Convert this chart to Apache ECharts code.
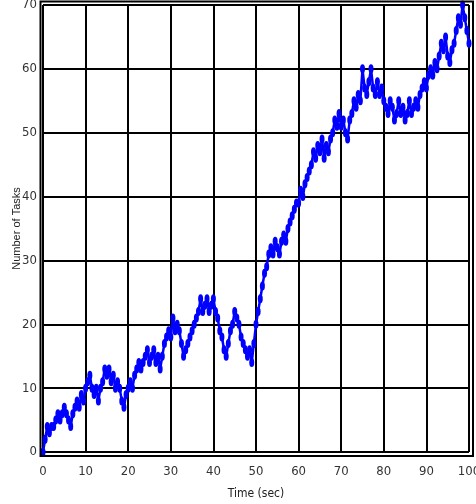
<!DOCTYPE html>
<html>
<head>
<meta charset="UTF-8">
<script type="text/javascript" src="https://cdn.jsdelivr.net/npm/echarts@6/dist/echarts.min.js"></script>
<title>Number of Tasks</title>
<style>body{margin:0;background:#fff;}</style>
</head>
<body>
	<div id="main" style="width:476px;height:504px;"></div>
	<script type="text/javascript">
		// sample spacing of the recorded run (sec)
		var step = 0.5;
		// number of tasks, one value per sample
		var tasks = [0,2,4,3,4,4,5,6,5,6,7,
			6,5,4,6,7,8,7,9,8,10,
			11,12,10,9,10,8,10,11,13,12,
			13,11,12,10,11,10,8,7,9,10,
			11,10,12,13,14,13,14,15,16,14,
			15,16,14,15,13,15,17,18,19,18,
			21,19,20,19,17,15,16,17,18,19,
			20,21,22,24,22,23,24,22,23,24,
			22,21,19,18,16,15,17,19,20,22,
			21,20,18,17,16,15,16,14,17,20,
			22,24,26,28,29,31,32,31,33,32,
			31,33,34,33,35,36,37,38,39,39,
			41,40,42,43,44,45,47,46,48,47,
			49,46,48,47,49,50,52,51,53,51,
			52,50,49,52,53,55,54,56,55,60,
			57,56,58,60,57,56,58,56,57,55,
			54,53,55,54,52,53,55,53,54,52,
			53,55,53,54,55,54,56,57,58,57,
			59,60,59,61,60,62,64,63,65,62,
			61,63,64,66,68,67,70,68,66,64];
		var xTicks = [0,100,10];
		var yTicks = [0,70,10];

		var points = [];
		for(var i = 0;i < tasks.length;i++){
			points.push([i * step, tasks[i]]);
		}

		var labelFont = '"Liberation Sans Narrow","DejaVu Sans Condensed","Liberation Sans",sans-serif';
		var myChart = echarts.init(document.getElementById("main"));
		var option = {
			animation:false,
			backgroundColor:'#fff',
			grid:{left:43,right:7,top:5,bottom:52,containLabel:false,outerBoundsMode:'none'},
			graphic:[{
				type:'rect',
				shape:{x:40.5,y:1.5,width:432.5,height:454.5},
				style:{fill:'none',stroke:'#000',lineWidth:2},
				z:100
			}],
			xAxis:{
				type:'value',
				min:xTicks[0],max:xTicks[1],interval:xTicks[2],
				name:'Time (sec)',
				nameLocation:'middle',
				nameGap:36,
				nameMoveOverlap:false,
				nameTextStyle:{fontFamily:labelFont,fontSize:12,color:'#222'},
				axisLine:{show:false},
				axisTick:{show:false},
				axisLabel:{margin:13,fontFamily:labelFont,fontSize:13,color:'#333'},
				splitLine:{show:true,lineStyle:{color:'#000',width:2}}
			},
			yAxis:{
				type:'value',
				min:yTicks[0],max:yTicks[1],interval:yTicks[2],
				name:'Number of Tasks',
				nameLocation:'middle',
				nameGap:21,
				nameMoveOverlap:false,
				nameTextStyle:{fontFamily:'"Liberation Sans",sans-serif',fontSize:11,color:'#222'},
				axisLine:{show:false},
				axisTick:{show:false},
				axisLabel:{margin:6,fontFamily:labelFont,fontSize:13,color:'#333'},
				splitLine:{show:true,lineStyle:{color:'#000',width:2}}
			},
			series:[{
				type:'line',
				data:points,
				showAllSymbol:true,
				symbol:'circle',
				symbolSize:[5,9],
				itemStyle:{color:'#0000ff'},
				lineStyle:{color:'#0000ff',width:2.5},
				z:10
			}]
		};
		myChart.setOption(option);
	</script>
</body>
</html>
